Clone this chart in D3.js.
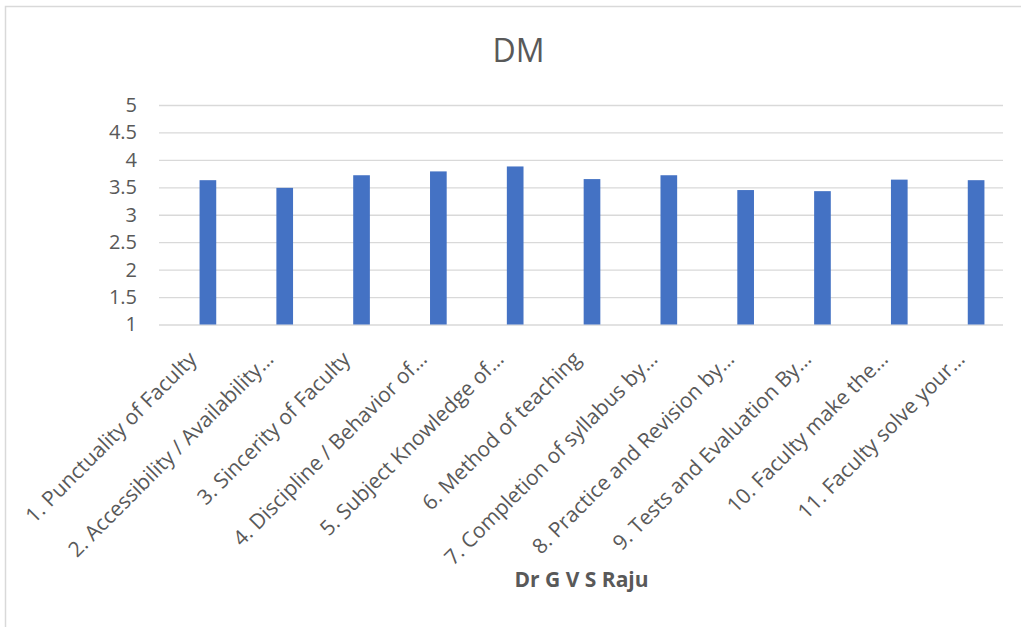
<!DOCTYPE html>
<html><head><meta charset="utf-8">
<script src="https://cdn.jsdelivr.net/npm/d3@7"></script>
<style>body{margin:0;background:#fff;}svg{display:block;} text{font-family:"Open Sans",sans-serif;}</style>
</head><body>
<svg id="c" width="1021" height="627"></svg>
<script>
const categories = ["1. Punctuality of Faculty","2. Accessibility / Availability…","3. Sincerity of Faculty","4. Discipline / Behavior of…","5. Subject Knowledge of…","6. Method of teaching","7. Completion of syllabus by…","8. Practice and Revision by…","9. Tests and Evaluation By…","10. Faculty make the…","11. Faculty solve your…"];
const values = [3.63, 3.49, 3.72, 3.79, 3.88, 3.65, 3.72, 3.45, 3.43, 3.64, 3.63];
const yTicks = [1, 1.5, 2, 2.5, 3, 3.5, 4, 4.5, 5];
const title = "DM";
const xTitle = "Dr G V S Raju";

const svg = d3.select("#c");
svg.append("rect").attr("x",5.5).attr("y",6.5).attr("width",1030).attr("height",640)
  .attr("fill","#fff").attr("stroke","#d9d9d9").attr("stroke-width",1.5);

const gL = 159, gR = 1003, mT = 105, mB = 324.5;
const x = d3.scaleBand().domain(categories).range([169.6,1014.4]).paddingInner(0.783).paddingOuter(0.39);
const y = d3.scaleLinear().domain([1,5]).range([mB,mT]);

const yAxis = d3.axisLeft(y).tickValues(yTicks).tickSize(-(gR-gL)).tickPadding(22).tickFormat(d3.format(""));
const gy = svg.append("g").attr("transform",`translate(${gL},0)`).call(yAxis);
gy.attr("font-family",null);
gy.select(".domain").remove();
gy.selectAll(".tick line").attr("stroke","#d9d9d9").attr("stroke-width",1.3);
gy.selectAll(".tick text").attr("fill","#595959").style("font-size","20px");

svg.append("g").selectAll("rect").data(values).join("rect")
  .attr("x",(d,i)=>x(categories[i])).attr("width",x.bandwidth())
  .attr("y",d=>y(d)).attr("height",d=>y(1)-y(d)).attr("fill","#4472C4");

const xAxis = d3.axisBottom(x).tickSize(0).tickPadding(0);
const gx = svg.append("g").attr("transform",`translate(0,${mB})`).call(xAxis);
gx.attr("font-family",null);
gx.select(".domain").remove();
gx.selectAll(".tick text")
  .attr("text-anchor","end").attr("fill","#595959").style("font-size","21px")
  .attr("dy","0").attr("y",0)
  .attr("transform","translate(-10,36) rotate(-45)");

svg.append("text").attr("x",518.5).attr("y",62).attr("text-anchor","middle")
  .attr("fill","#595959").style("font-size","32px").text(title);
svg.append("text").attr("x",581.5).attr("y",587).attr("text-anchor","middle")
  .attr("fill","#595959").style("font-size","21px").style("font-weight","bold").text(xTitle);
</script>
</body></html>
